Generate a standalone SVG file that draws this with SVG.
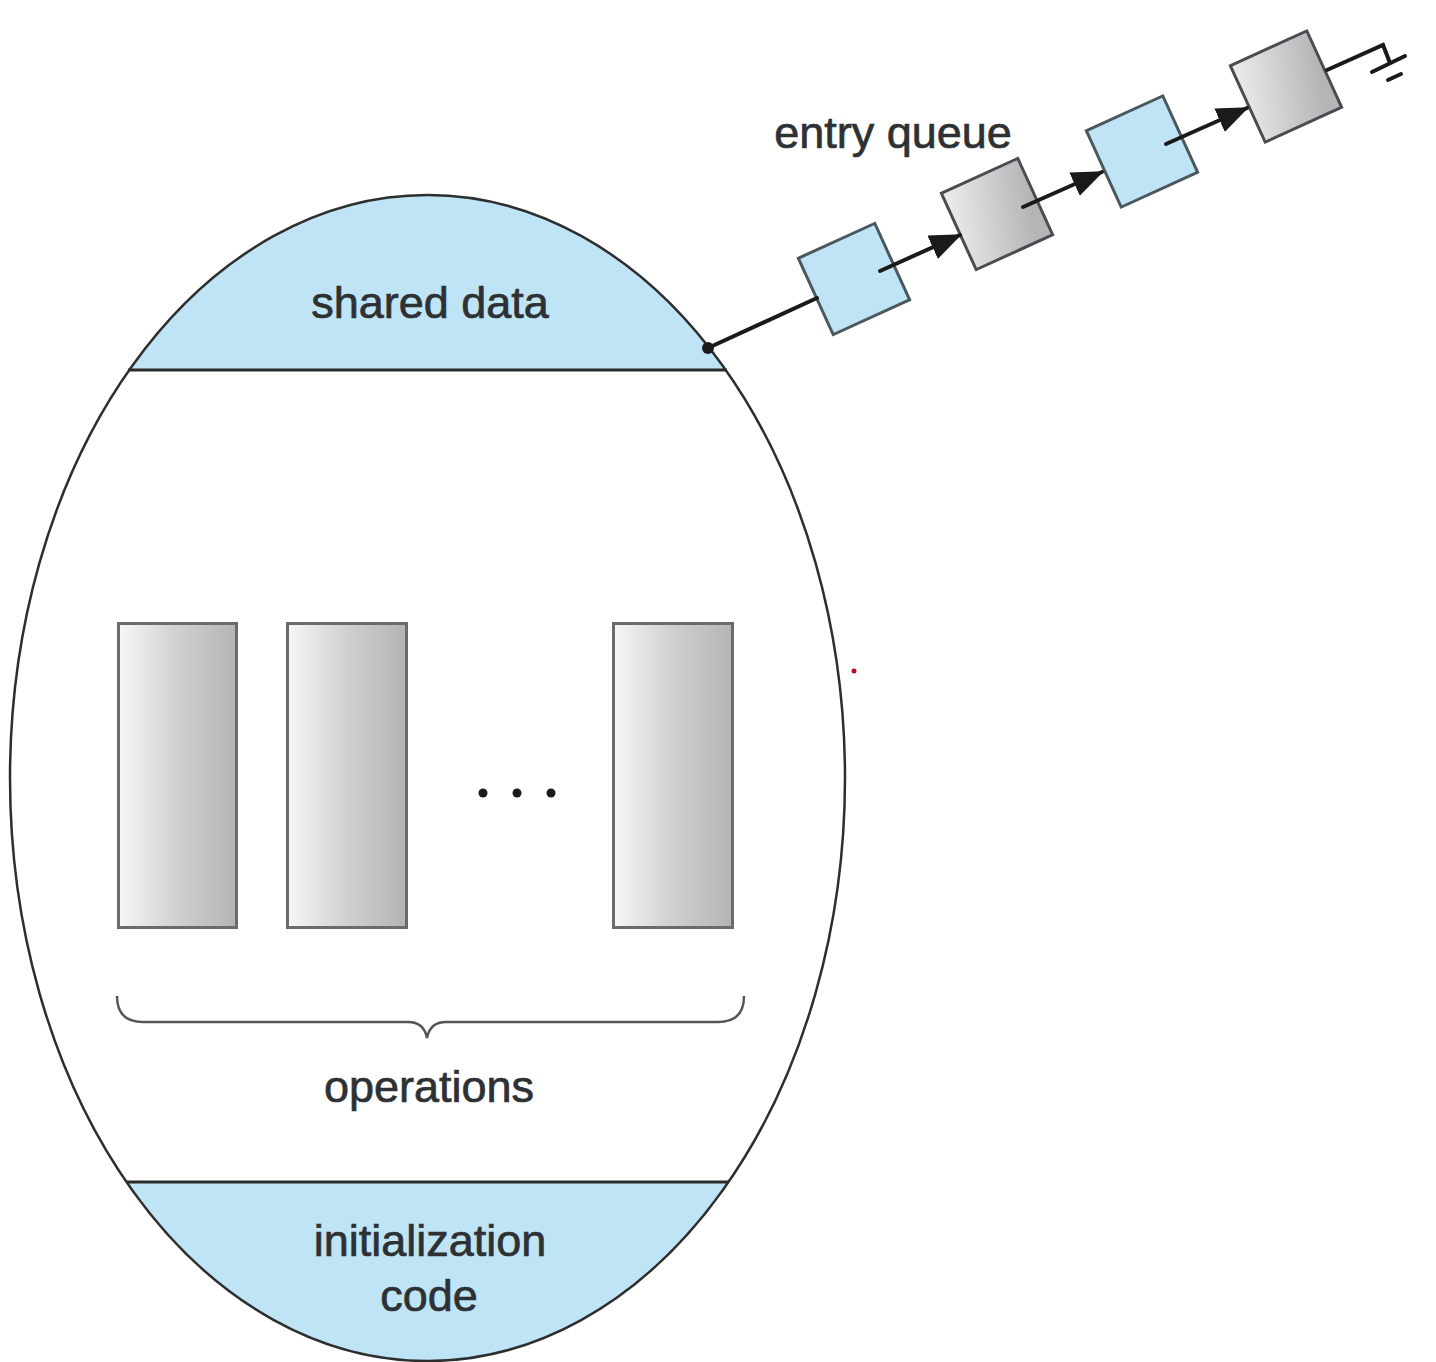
<svg xmlns="http://www.w3.org/2000/svg" width="1436" height="1362" viewBox="0 0 1436 1362">
<style>
.lbl{font-family:"Liberation Sans",Arial,sans-serif;font-size:45px;fill:#2e3133;stroke:#2e3133;stroke-width:0.7;text-anchor:middle}
.op{fill:url(#opGrad);stroke:#6b6b6b;stroke-width:3}
.qb{fill:#bfe4f6;stroke:#4a585e;stroke-width:3}
.qg{fill:url(#qGrad);stroke:#4a4d50;stroke-width:3}
.ln{stroke:#1a1a1a;stroke-width:4;fill:none;stroke-linecap:round}
</style>
<defs>
<linearGradient id="opGrad" x1="0" y1="0" x2="1" y2="0">
<stop offset="0" stop-color="#f7f7f7"/>
<stop offset="0.5" stop-color="#cfd0d1"/>
<stop offset="1" stop-color="#b2b4b6"/>
</linearGradient>
<linearGradient id="qGrad" x1="0" y1="0" x2="1" y2="0.3">
<stop offset="0" stop-color="#eeeeee"/>
<stop offset="1" stop-color="#b3b5b7"/>
</linearGradient>
<clipPath id="egg"><ellipse cx="427.5" cy="778" rx="417.5" ry="583"/></clipPath>
<marker id="arr" markerWidth="8" markerHeight="6.4" refX="7.5" refY="3.2" orient="auto" markerUnits="strokeWidth">
<path d="M0,0 L8,3.2 L0,6.4 Z" fill="#1a1a1a"/>
</marker>
</defs>
<rect width="1436" height="1362" fill="#ffffff"/>

<g id="monitor">
<ellipse cx="427.5" cy="778" rx="417.5" ry="583" fill="#ffffff"/>
<g clip-path="url(#egg)">
<rect id="shared-band" x="0" y="190" width="860" height="180" fill="#bfe4f6"/>
<rect id="init-band" x="0" y="1182" width="860" height="185" fill="#bfe4f6"/>
</g>
<line x1="128" y1="370" x2="727" y2="370" stroke="#2a2a2a" stroke-width="3"/>
<line x1="126" y1="1182" x2="729" y2="1182" stroke="#2a2a2a" stroke-width="3"/>
<ellipse cx="427.5" cy="778" rx="417.5" ry="583" fill="none" stroke="#2e2e2e" stroke-width="2.5"/>
</g>

<g id="shared-data"><text class="lbl" x="430" y="318">shared data</text></g>
<g id="initialization-code">
<text class="lbl" x="430" y="1256">initialization</text>
<text class="lbl" x="429" y="1311">code</text>
</g>

<g id="op1"><rect class="op" x="118.5" y="623.5" width="118" height="304"/></g>
<g id="op2"><rect class="op" x="287.5" y="623.5" width="119" height="304"/></g>
<g id="op3"><rect class="op" x="613.5" y="623.5" width="119" height="304"/></g>
<g id="ellipsis" fill="#1a1a1a">
<circle cx="483" cy="793" r="4.5"/>
<circle cx="517" cy="793" r="4.5"/>
<circle cx="551" cy="793" r="4.5"/>
</g>
<g id="brace">
<path d="M117,996 Q117,1022 143,1022 L408,1022 Q424,1022 427,1038 Q430,1022 446,1022 L718,1022 Q744,1022 744,996" fill="none" stroke="#555" stroke-width="2.5"/>
</g>
<g id="operations"><text class="lbl" x="429" y="1102">operations</text></g>

<g id="entry-queue-label"><text class="lbl" x="893" y="148">entry queue</text></g>

<g id="q1"><rect class="qb" x="-42" y="-42" width="84" height="84" transform="translate(854,279) rotate(-24.5)"/></g>
<g id="q2"><rect class="qg" x="-42" y="-42" width="84" height="84" transform="translate(997,214) rotate(-24.5)"/></g>
<g id="q3"><rect class="qb" x="-42" y="-42" width="84" height="84" transform="translate(1142,151.5) rotate(-24.5)"/></g>
<g id="q4"><rect class="qg" x="-42" y="-42" width="84" height="84" transform="translate(1286,86.5) rotate(-24.5)"/></g>

<g id="connectors">
<circle cx="708" cy="348" r="6" fill="#1a1a1a"/>
<line class="ln" x1="708" y1="348" x2="817" y2="298"/>
<line class="ln" x1="880" y1="271" x2="960" y2="235" marker-end="url(#arr)"/>
<line class="ln" x1="1023" y1="207" x2="1102" y2="172" marker-end="url(#arr)"/>
<line class="ln" x1="1166" y1="144" x2="1247" y2="108" marker-end="url(#arr)"/>
<polyline class="ln" points="1327,70 1383,45 1390,63"/>
<line class="ln" x1="1372" y1="72" x2="1405" y2="56"/>
<line class="ln" x1="1388" y1="80" x2="1401" y2="74"/>
</g>
<circle id="red-mark" cx="854" cy="671" r="2.5" fill="#b0102a"/>
</svg>
